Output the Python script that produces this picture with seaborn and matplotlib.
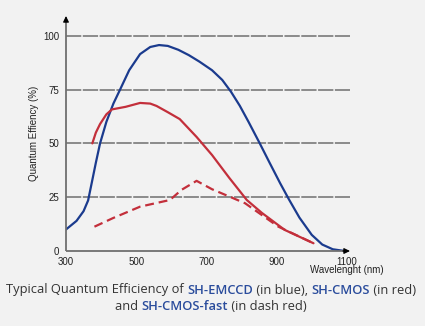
import matplotlib
matplotlib.use("Agg")
import matplotlib.pyplot as plt
import seaborn as sns
import pandas as pd
from matplotlib.offsetbox import TextArea, HPacker, AnchoredOffsetbox

# Quantum efficiency curves (wavelength in nm, QE in %)
emccd_nm = [300, 330, 350, 363, 375, 385, 397, 415, 435, 454, 480, 511, 540, 565, 590,
            620, 650, 680, 716, 745, 770, 795, 820, 852, 880, 910, 935, 965, 1000, 1030, 1060, 1094]
emccd_qe = [10, 14, 18.5, 23.5, 33, 41, 50, 60, 68.5, 75, 84, 91.5, 94.8, 95.7, 95.3,
            93.5, 91, 88, 84, 79.5, 74, 67.5, 60, 50, 41, 31.5, 24, 15.5, 7.5, 3, 0.8, 0]

cmos_nm = [375, 385, 397, 415, 431, 470, 511, 540, 558, 590, 624, 672, 716, 765, 815, 858, 923, 1005]
cmos_qe = [50, 55, 59, 63.5, 65.8, 67, 68.8, 68.5, 67.4, 64.5, 61.3, 53, 44.6, 34, 23.7, 17.7, 9.8, 3.6]

fast_nm = [381, 434, 511, 596, 629, 672, 716, 810, 905, 1005]
fast_qe = [11.3, 15.3, 20.6, 23.7, 28.4, 32.6, 28.7, 22.2, 11.3, 3.6]

y_ticks = [0, 25, 50, 75, 100]
x_ticks = [300, 500, 700, 900, 1100]

blue = "#1b3b8e"
red = "#c32f3b"
label_blue = "#2a4c9c"
bg = "#f2f2f2"
axis_gray = "#707070"

df = pd.concat([
    pd.DataFrame({"nm": emccd_nm, "qe": emccd_qe, "sensor": "SH-EMCCD"}),
    pd.DataFrame({"nm": cmos_nm, "qe": cmos_qe, "sensor": "SH-CMOS"}),
    pd.DataFrame({"nm": fast_nm, "qe": fast_qe, "sensor": "SH-CMOS-fast"}),
])

sns.set_style("white")
plt.rcParams["font.family"] = ["Liberation Sans", "DejaVu Sans"]

fig = plt.figure(figsize=(4.25, 3.26), dpi=100, facecolor=bg)
ax = fig.add_axes([66 / 425, 1 - 251 / 326, 284 / 425, 235 / 326])
ax.set_facecolor(bg)

# dashed horizontal reference lines
for v in y_ticks[1:]:
    ax.axhline(v, color="#6f6f6f", lw=1.1, dashes=(10, 1.0), zorder=1)

palette = {"SH-EMCCD": blue, "SH-CMOS": red, "SH-CMOS-fast": red}
for name, sub in df.groupby("sensor", sort=False):
    line_kw = {"dashes": (4, 2.2)} if name == "SH-CMOS-fast" else {}
    sns.lineplot(data=sub, x="nm", y="qe", color=palette[name], lw=1.6,
                 ax=ax, legend=False, sort=False, zorder=3, **line_kw)

ax.set_xlim(300, 1109)
ax.set_ylim(0, 109.2)
for s in ax.spines.values():
    s.set_visible(False)

# axis lines, with small black arrowheads at their ends
ax.plot([0, 0], [0, 0.985], transform=ax.transAxes, color=axis_gray, lw=1.3,
        clip_on=False, zorder=4, solid_capstyle="butt")
ax.plot([0, 0.985], [0, 0], transform=ax.transAxes, color=axis_gray, lw=1.3,
        clip_on=False, zorder=4, solid_capstyle="butt")
head = dict(arrowstyle="-|>,head_length=0.35,head_width=0.17", color="black",
            lw=0.8, shrinkA=0, shrinkB=0)
ax.annotate("", xy=(0, 1.0), xytext=(0, 0.975), xycoords="axes fraction",
            arrowprops=head, zorder=5, annotation_clip=False)
ax.annotate("", xy=(1.0, 0), xytext=(0.975, 0), xycoords="axes fraction",
            arrowprops=head, zorder=5, annotation_clip=False)

ax.set_xticks(x_ticks)
ax.set_yticks(y_ticks)
ax.set_xticklabels([str(t) for t in x_ticks])
ax.set_yticklabels([str(t) for t in y_ticks])
ax.tick_params(axis="both", length=0, labelsize=7, colors="#222222")
ax.tick_params(axis="y", pad=5)
ax.tick_params(axis="x", pad=4)
ax.set_xlabel("")
ax.set_ylabel("Quantum Effiency (%)", fontsize=7, color="#222222", labelpad=3)
ax.text(1100, -6.6, "Wavelenght (nm)", fontsize=7, ha="center", va="top",
        color="#222222")

# caption with highlighted product names
cap_font = dict(fontfamily="Open Sans", fontsize=9.3)
def part(s, c):
    return TextArea(s, textprops=dict(color=c, **cap_font))

def bold(s):
    return TextArea(s, textprops=dict(color=label_blue, fontweight="semibold", **cap_font))

gray = "#333333"
line1 = HPacker(children=[part("Typical Quantum Efficiency of ", gray), bold("SH-EMCCD"),
                          part(" (in blue), ", gray), bold("SH-CMOS"),
                          part(" (in red)", gray)], pad=0, sep=0, align="baseline")
line2 = HPacker(children=[part("and ", gray), bold("SH-CMOS-fast"),
                          part(" (in dash red)", gray)], pad=0, sep=0, align="baseline")
for box, yy in [(line1, 290), (line2, 307)]:
    anch = AnchoredOffsetbox(loc="center", child=box, frameon=False, pad=0,
                             bbox_to_anchor=(211 / 425, 1 - yy / 326),
                             bbox_transform=fig.transFigure, borderpad=0)
    fig.add_artist(anch)

fig.savefig("out.png", dpi=100, facecolor=bg)
